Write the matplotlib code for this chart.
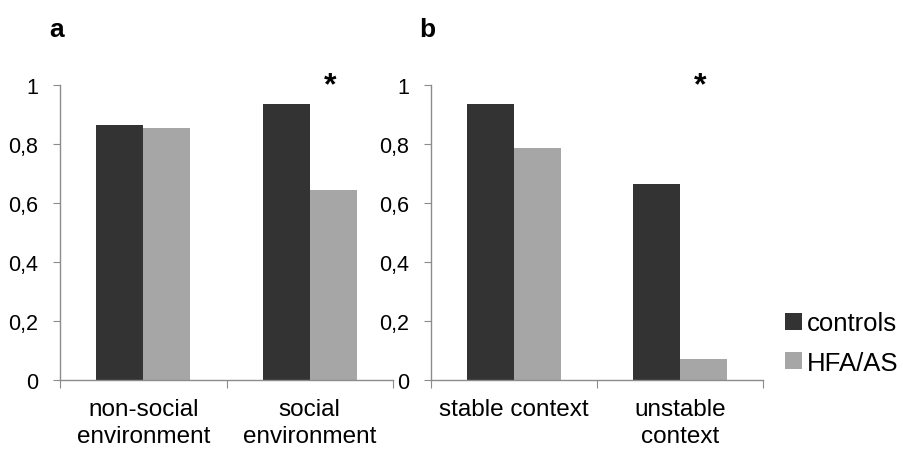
import matplotlib
matplotlib.use("Agg")
import matplotlib.pyplot as plt
import numpy as np

plt.rcParams['font.family'] = ['Liberation Sans', 'DejaVu Sans']

# data
cats_a = ["non-social\nenvironment", "social\nenvironment"]
controls_a = [0.865, 0.935]
hfa_a = [0.855, 0.645]

cats_b = ["stable context", "unstable\ncontext"]
controls_b = [0.937, 0.663]
hfa_b = [0.785, 0.071]

yticks = [0, 0.2, 0.4, 0.6, 0.8, 1.0]
ytick_labels = ["0", "0,2", "0,4", "0,6", "0,8", "1"]

dark = "#333333"
light = "#a6a6a6"
axcol = "#8c8c8c"
W = 0.283

fig = plt.figure(figsize=(9.04, 4.52), dpi=100)
ax1 = fig.add_axes([60/904, 71/452, 333/904, 295/452])
ax2 = fig.add_axes([431/904, 71/452, 332/904, 295/452])

def draw(ax, cats, c, h, label):
    x = np.arange(len(cats))
    ax.bar(x - W/2, c, W, color=dark, label="controls")
    ax.bar(x + W/2, h, W, color=light, label="HFA/AS")
    ax.set_xlim(-0.5, len(cats) - 0.5)
    ax.set_ylim(0, 1)
    for s in ["top", "right"]:
        ax.spines[s].set_visible(False)
    for s in ["left", "bottom"]:
        ax.spines[s].set_color(axcol)
        ax.spines[s].set_linewidth(1)
    ax.set_yticks(yticks)
    ax.set_yticklabels(ytick_labels, fontsize=15.5)
    ax.tick_params(axis='y', length=5, color=axcol, pad=11)
    ax.set_xticks(np.arange(len(cats) + 1) - 0.5)
    ax.set_xticklabels([])
    ax.tick_params(axis='x', which='major', length=6, color=axcol)
    ax.set_xticks(x, minor=True)
    ax.set_xticklabels(cats, minor=True, fontsize=17.5, linespacing=1.3)
    ax.tick_params(axis='x', which='minor', length=0, pad=13)
    # significance star over the second group
    ax.text(1 + W/2 - 0.02, 1.0, "*", fontsize=23, fontweight='bold',
            ha='center', va='center', clip_on=False)
    ax.text(-0.01, 1.19, label, transform=ax.transAxes, fontsize=19,
            fontweight='bold', ha='center', va='center')

draw(ax1, cats_a, controls_a, hfa_a, "a")
draw(ax2, cats_b, controls_b, hfa_b, "b")

handles, labels = ax2.get_legend_handles_labels()
fig.legend(handles, labels, loc='center left', bbox_to_anchor=(785/904, (452-344)/452),
           frameon=False, fontsize=18.5, handlelength=0.66, handleheight=0.66,
           handletextpad=0.2, labelspacing=0.6, borderpad=0, borderaxespad=0)

fig.savefig("out.png", dpi=100)
